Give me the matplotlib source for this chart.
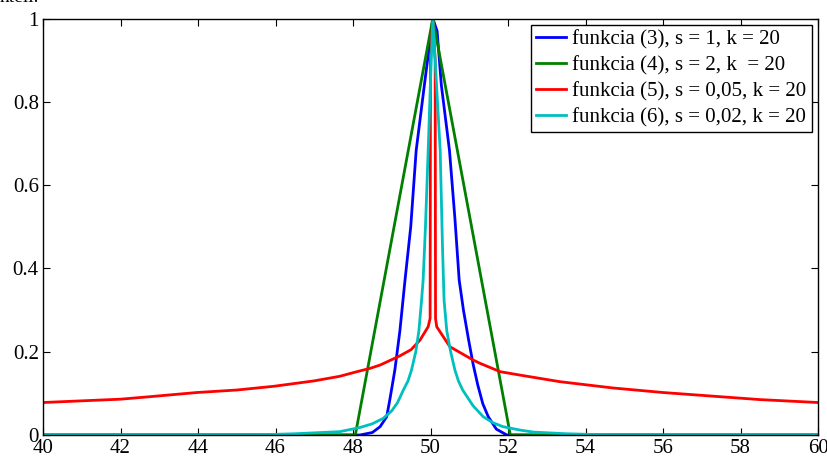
import matplotlib
matplotlib.use("Agg")
import matplotlib.pyplot as plt

plt.rcParams['font.family'] = ['Liberation Serif', 'DejaVu Serif']

# values
# -----------------------------------------------------------------------------
blue_x = [40, 48.18, 48.5, 48.7, 48.87, 48.96, 49.08, 49.21, 49.34, 49.49,
          49.63, 49.85, 50.06, 50.17, 50.28, 50.49, 50.63, 50.74, 50.85, 50.98,
          51.1, 51.22, 51.35, 51.49, 51.7, 51.97, 60]
blue_y = [0, 0, 0.006, 0.02, 0.044, 0.09, 0.156, 0.25, 0.37, 0.50,
          0.683, 0.846, 1.0, 0.97, 0.84, 0.683, 0.52, 0.372, 0.30, 0.23,
          0.17, 0.12, 0.075, 0.044, 0.014, 0, 0]

green_x = [40, 48.06, 50.06, 52.06, 60]
green_y = [0, 0, 1.0, 0, 0]

red_x = [40, 41, 42, 42.76, 43.97, 45, 45.96, 47, 47.66, 48.1, 48.44, 48.7,
         49.21, 49.5, 49.73, 49.94, 49.99, 50.0, 50.06, 50.12, 50.13, 50.16,
         50.5, 51.1, 51.28, 51.8, 52.3, 53.34, 54.7, 56, 57.47, 58.5, 60]
red_y = [0.078, 0.082, 0.086, 0.092, 0.102, 0.108, 0.117, 0.13, 0.141, 0.152,
         0.16, 0.168, 0.19, 0.205, 0.228, 0.26, 0.28, 0.9, 1.0, 0.9, 0.28, 0.26,
         0.212, 0.18, 0.172, 0.152, 0.144, 0.128, 0.113, 0.102, 0.092, 0.085,
         0.078]

cyan_x = [40, 45.4, 46.5, 47.66, 48.18, 48.5, 48.78, 49.0, 49.15, 49.3, 49.42,
          49.51, 49.62, 49.7, 49.77, 49.81, 49.87, 49.94, 50.0, 50.06, 50.15,
          50.25, 50.31, 50.35, 50.42, 50.52, 50.63, 50.72, 50.83, 51.1, 51.36,
          51.6, 51.87, 52.3, 52.65, 53.5, 54.7, 60]
cyan_y = [0, 0, 0.003, 0.008, 0.018, 0.027, 0.04, 0.058, 0.078, 0.108, 0.13,
          0.156, 0.2, 0.25, 0.324, 0.372, 0.5, 0.683, 0.85, 1.0, 0.85,
          0.683, 0.45, 0.324, 0.25, 0.2, 0.156, 0.13, 0.108, 0.07, 0.044,
          0.03, 0.02, 0.012, 0.007, 0.003, 0, 0]

labels = ["funkcia (3), s = 1, k = 20",
          "funkcia (4), s = 2, k  = 20",
          "funkcia (5), s = 0,05, k = 20",
          "funkcia (6), s = 0,02, k = 20"]
x_ticks = list(range(40, 61, 2))
y_ticks = [0, 0.2, 0.4, 0.6, 0.8, 1]
y_tick_labels = ["0", "0.2", "0.4", "0.6", "0.8", "1"]
# -----------------------------------------------------------------------------

fig = plt.figure(figsize=(8.28, 4.57), dpi=100)
ax = fig.add_axes([43 / 828, 1 - 435 / 457, 775 / 828, 416.5 / 457])

lw = 2.0
ax.plot(blue_x, blue_y, color="#0000ff", lw=lw, label=labels[0])
ax.plot(green_x, green_y, color="#008000", lw=lw, label=labels[1])
ax.plot(red_x, red_y, color="#ff0000", lw=lw, label=labels[2])
ax.plot(cyan_x, cyan_y, color="#00bfbf", lw=lw, label=labels[3])

ax.set_xlim(40, 60)
ax.set_ylim(0, 1)
ax.set_xticks(x_ticks)
ax.set_yticks(y_ticks)
ax.set_yticklabels(y_tick_labels)
ax.tick_params(direction="in", top=True, right=True, length=5, width=0.8,
               labelsize=15, pad=3, colors="black")
for sp in ax.spines.values():
    sp.set_linewidth(1.0)

leg = ax.legend(loc="upper right", fontsize=15, frameon=True, fancybox=False,
                edgecolor="black", framealpha=1, borderpad=0.25,
                labelspacing=0.3, handlelength=1.45, handletextpad=0.3,
                borderaxespad=0.3)
leg.get_frame().set_linewidth(1.0)

# bit of text from the page above, cut off at the top edge
fig.text(0.0, 1 - 1.5 / 457, "ntell.", fontsize=14, va="baseline", ha="left")

fig.savefig("out.png", dpi=100)
